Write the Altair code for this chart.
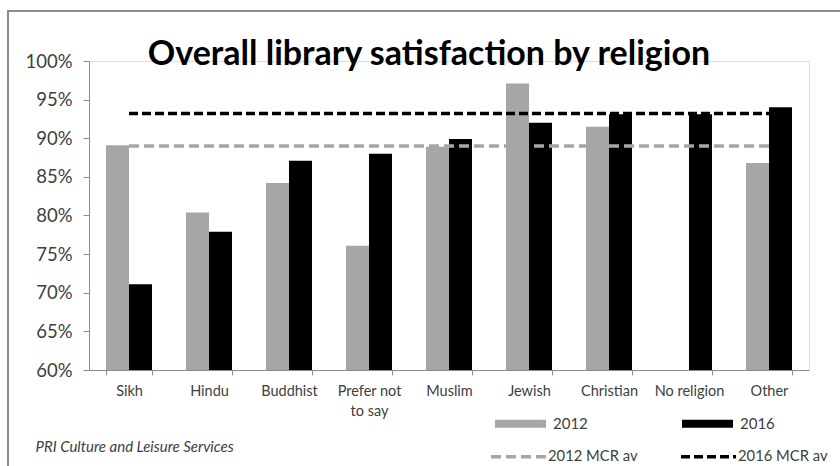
import altair as alt
import pandas as pd

religions = ["Sikh", "Hindu", "Buddhist", "Prefer not to say", "Muslim",
             "Jewish", "Christian", "No religion", "Other"]
sat_2012 = [0.891, 0.804, 0.842, 0.761, 0.889, 0.971, 0.915, None, 0.868]
sat_2016 = [0.711, 0.779, 0.871, 0.880, 0.899, 0.920, 0.931, 0.931, 0.940]
avg_2012 = 0.890
avg_2016 = 0.932
years = ["2012", "2016"]
line_names = ["2012 MCR av", "2016 MCR av"]
y_ticks = [0.6, 0.65, 0.7, 0.75, 0.8, 0.85, 0.9, 0.95, 1.0]

rows = []
for r, a, b in zip(religions, sat_2012, sat_2016):
    if a is not None:
        rows.append({"religion": r, "year": "2012", "value": a})
    if b is not None:
        rows.append({"religion": r, "year": "2016", "value": b})
bars_df = pd.DataFrame(rows)

line_rows = []
for name, v in zip(line_names, [avg_2012, avg_2016]):
    for r in religions:
        line_rows.append({"religion": r, "series": name, "value": v})
lines_df = pd.DataFrame(line_rows)

FONT = "Lato"
GREY = "#a6a6a6"

x_axis = alt.Axis(
    title="PRI Culture and Leisure Services",
    titleX=-54, titleY=81, titleAlign="left", titleBaseline="alphabetic",
    titleAnchor="start", titleAngle=0,
    titleFont=FONT, titleFontSize=15, titleFontStyle="italic",
    titleFontWeight="normal", titleColor="#404040",
    labelAngle=0, labelFont=FONT, labelFontSize=14.5, labelColor="#404040",
    labelPadding=9, labelLineHeight=20,
    labelExpr="datum.value == 'Prefer not to say' ? ['Prefer not', 'to say'] : datum.value",
    tickBand="extent", tickSize=5, tickColor="#8c8c8c",
    domainColor="#8c8c8c", grid=False,
)
x_scale = alt.Scale(domain=religions, paddingInner=0.425, paddingOuter=0.2125)

y_scale = alt.Scale(domain=[0.6, 1.0], nice=False, zero=False)
y_axis = alt.Axis(
    values=y_ticks, tickCount=9,
    format=".0%", title=None, grid=False, labelOverlap=False,
    labelFont=FONT, labelFontSize=18.5, labelColor="#404040", labelPadding=11,
    tickSize=6, tickColor="#8c8c8c", domainColor="#8c8c8c",
)

line_legend = alt.Legend(
    title=None, orient="none", legendX=400, legendY=366,
    direction="horizontal", columns=2, columnPadding=36,
    symbolType="stroke", symbolSize=3025, symbolStrokeWidth=3.5,
    labelOffset=0,
    labelFont=FONT, labelFontSize=14.8, labelColor="#404040",
)

bars = alt.Chart(bars_df).mark_bar(clip=True).encode(
    x=alt.X("religion:N", sort=religions, scale=x_scale, axis=x_axis),
    xOffset=alt.XOffset("year:N", scale=alt.Scale(domain=years, paddingInner=0, paddingOuter=0)),
    y=alt.Y("value:Q", scale=y_scale, axis=y_axis),
    fill=alt.Fill(
        "year:N",
        scale=alt.Scale(domain=years, range=[GREY, "#000000"]),
        legend=alt.Legend(
            title=None, orient="none", legendX=406, legendY=337,
            direction="horizontal", columns=2, columnPadding=94,
            symbolType="M-1,-0.157H1V0.157H-1Z", symbolSize=2601,
            symbolStrokeWidth=0, labelOffset=7,
            labelFont=FONT, labelFontSize=15, labelColor="#404040",
        ),
    ),
)

lines = alt.Chart(lines_df).mark_line(strokeWidth=3.5).encode(
    x=alt.X("religion:N", sort=religions, scale=x_scale, axis=x_axis),
    y=alt.Y("value:Q", scale=y_scale, axis=y_axis),
    stroke=alt.Stroke(
        "series:N",
        scale=alt.Scale(domain=line_names, range=[GREY, "#000000"]),
        legend=line_legend,
    ),
    strokeDash=alt.StrokeDash(
        "series:N",
        scale=alt.Scale(domain=line_names, range=[[10, 5], [9, 4]]),
        legend=line_legend,
    ),
    detail="series:N",
)

frame_df = pd.DataFrame({"k": [0]})
frame_left = alt.Chart(frame_df).mark_rule(stroke="#8c8c8c", strokeWidth=2).encode(
    x=alt.value(-81), y=alt.value(-50), y2=alt.value(430)
)
frame_top = alt.Chart(frame_df).mark_rule(stroke="#8c8c8c", strokeWidth=2).encode(
    x=alt.value(-82), x2=alt.value(800), y=alt.value(-50)
)

chart = alt.layer(frame_left, frame_top, bars, lines).properties(
    width=720,
    height=309,
    title=alt.TitleParams(
        "Overall library satisfaction by religion",
        font=FONT, fontSize=34, fontWeight="bold", color="#000000",
        anchor="middle", dx=-20, dy=66,
    ),
    padding={"left": 89, "top": 61, "right": 31, "bottom": 96},
    autosize=alt.AutoSizeParams(type="none"),
).configure_view(stroke=None).configure(background="white")

chart.save("out.html", embed_options={"renderer": "svg", "actions": False})
